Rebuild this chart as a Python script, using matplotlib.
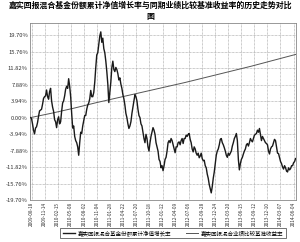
import matplotlib
matplotlib.use("Agg")
import matplotlib.pyplot as plt
import numpy as np

plt.rcParams['font.family'] = ['Noto Sans CJK SC', 'DejaVu Sans']

title = "嘉实回报混合基金份额累计净值增长率与同期业绩比较基准收益率的历史走势对比\n图"
nav_label = "嘉实回报混合基金份额累计净值增长率"
bench_label = "嘉实回报混合业绩比较基准收益率"

tick_labels = ["2009-08-18", "2009-11-14", "2010-02-15", "2010-05-08", "2010-08-02",
               "2010-11-04", "2011-01-28", "2011-04-22", "2011-07-20", "2011-10-18",
               "2012-01-12", "2012-04-09", "2012-07-06", "2012-09-28", "2012-12-24",
               "2013-03-20", "2013-06-15", "2013-09-12", "2013-12-10", "2014-03-07",
               "2014-06-04"]

yticks = [19.70, 15.76, 11.82, 7.88, 3.94, 0.00, -3.94, -7.88, -11.82, -15.76, -19.70]

nav = [0.0, -0.2, -1.5, -3.0, -3.9, -2.5, -2.2, -1.2, 0.3, 1.6, 1.8, 2.0, 3.2, 4.6, 5.0, 5.2,
       6.6, 5.0, 4.4, 6.2, 7.0, 4.0, 2.5, 1.5, -0.5, -1.0, -2.4, -0.5, 0.2, -1.5, -1.0, 1.5,
       3.5, 4.0, 5.2, 6.8, 7.5, 7.0, 9.3, 7.5, 5.0, 1.0, -2.5, -2.0, -4.5, -5.5, -6.0, -7.0,
       -9.0, -6.0, -3.5, -3.8, -2.0, -0.8, 0.5, 0.5, 2.0, 3.0, 3.5, 4.5, 6.5, 5.0, 5.0, 6.0,
       8.5, 12.0, 15.0, 15.5, 17.5, 19.5, 20.5, 18.0, 19.0, 16.5, 15.5, 13.5, 11.0, 8.0, 3.6, 6.0,
       8.5, 12.0, 13.5, 11.5, 11.0, 12.0, 11.5, 10.5, 9.0, 9.5, 8.0, 7.0, 5.5, 4.5, 3.0, 1.0,
       0.0, -1.5, -2.6, -2.0, -1.0, 1.0, 2.5, 4.0, 5.5, 5.0, 4.0, 2.0, 0.5, 0.0, -1.5, -2.0,
       -3.5, -5.0, -6.0, -4.0, -5.0, -7.0, -8.0, -6.0, -4.5, -3.5, -2.4, -3.0, -4.0, -6.0, -7.0, -8.0,
       -10.0, -10.5, -12.0, -11.5, -12.7, -11.5, -10.0, -9.5, -8.0, -6.0, -5.5, -6.0, -5.0, -5.5, -6.5, -7.5,
       -8.4, -7.0, -7.0, -6.0, -5.8, -6.5, -5.5, -5.0, -6.2, -5.0, -5.0, -4.2, -4.5, -4.0, -3.8, -5.2,
       -6.0, -7.5, -8.2, -7.0, -7.5, -8.5, -9.0, -8.5, -9.6, -9.2, -8.5, -9.8, -10.3, -10.2, -11.5, -12.0,
       -13.5, -14.5, -16.0, -17.0, -18.0, -16.5, -14.5, -13.0, -11.0, -9.0, -8.0, -7.5, -6.5, -5.2, -5.0, -6.0,
       -6.5, -7.2, -8.0, -9.0, -9.5, -8.5, -9.0, -8.5, -8.0, -6.8, -6.0, -5.0, -4.5, -3.8, -5.5, -10.0,
       -12.5, -11.0, -10.0, -9.5, -8.7, -8.0, -7.5, -6.5, -6.2, -6.8, -6.0, -5.0, -5.5, -5.8, -5.0, -4.2,
       -4.0, -3.8, -3.0, -3.5, -2.6, -4.0, -5.5, -4.5, -5.0, -5.5, -6.0, -6.2, -6.5, -8.0, -8.7, -7.5,
       -7.0, -6.8, -6.0, -5.2, -5.5, -7.0, -8.5, -8.6, -9.6, -10.5, -11.0, -11.8, -12.3, -11.5, -12.0, -12.8,
       -13.0, -12.0, -12.5, -12.2, -11.5, -11.5, -10.8, -10.5, -9.8]

bench = [0.0, 1.1, 2.3, 3.6, 4.8, 6.0, 7.2, 8.4, 9.7, 11.0, 12.3, 13.7, 15.1]

fig = plt.figure(figsize=(3.0, 2.42), dpi=100)
ax = fig.add_axes([0.1, 0.1736, 0.887, 0.731])

n = len(nav)
x = np.arange(n)
xb = np.linspace(0, n - 1, len(bench))

ax.plot(x, nav, color='#1a1a1a', lw=1.0, label=nav_label, zorder=3)
ax.plot(xb, bench, color='#555555', lw=0.7, label=bench_label, zorder=2)

ax.set_xlim(-0.5, n - 0.5)
ax.set_ylim(-19.70, 22.6)
ax.set_yticks(yticks)
ax.set_yticklabels([f"{v:.2f}%" for v in yticks], fontsize=4.2, color='#333333')
xt = np.linspace(1, n - 3, len(tick_labels))
ax.set_xticks(xt)
ax.set_xticklabels(tick_labels, rotation=90, fontsize=3.4, color='#333333')
ax.tick_params(axis='both', length=0, pad=1.5)
ax.grid(True, color='#999999', lw=0.5, ls=(0, (1, 1)))
for s in ax.spines.values():
    s.set_color('#888888')
    s.set_linewidth(0.6)

fig.text(0.5, 0.995, title, ha='center', va='top', fontsize=5.7, fontweight='bold',
         linespacing=1.25)

leg = fig.legend(loc='lower center', bbox_to_anchor=(0.577, 0.003), ncol=2, fontsize=4.0,
                 frameon=True, fancybox=False, edgecolor='#333333', handlelength=2.2,
                 borderpad=0.4, columnspacing=2.5, handletextpad=0.6)
leg.get_frame().set_linewidth(0.6)

fig.savefig("out.png", dpi=100)
